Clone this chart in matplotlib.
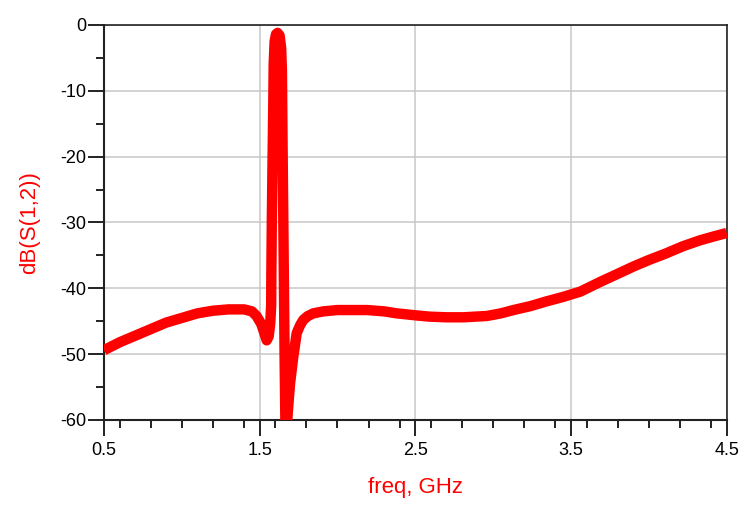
import matplotlib
matplotlib.use("Agg")
import matplotlib.pyplot as plt
from matplotlib.ticker import MultipleLocator

# values
freq = [0.5, 0.6, 0.7, 0.8, 0.9, 1.0, 1.1, 1.2, 1.3, 1.4, 1.45, 1.48, 1.51, 1.53, 1.545,
        1.558, 1.568, 1.574, 1.575, 1.578, 1.582, 1.587, 1.59, 1.596, 1.605, 1.615,
        1.628, 1.638, 1.643, 1.647, 1.652, 1.656, 1.66, 1.665, 1.67, 1.68, 1.695,
        1.716, 1.738, 1.76, 1.78, 1.81, 1.845, 1.91, 2.0, 2.06, 2.19, 2.3, 2.38, 2.5,
        2.59, 2.7, 2.81, 2.96, 3.05, 3.13, 3.24, 3.34, 3.45, 3.56, 3.69, 3.8, 3.9,
        4.0, 4.11, 4.22, 4.33, 4.42, 4.5]
s12_db = [-49.4, -48.2, -47.2, -46.2, -45.2, -44.5, -43.8, -43.4, -43.2, -43.2, -43.5, -44.2, -45.4, -46.8, -47.9,
          -47.3, -45.3, -42.5, -38.0, -30.0, -22.0, -13.0, -6.0, -2.5, -1.4, -1.2,
          -1.6, -3.5, -7.0, -18.0, -30.0, -40.0, -50.0, -60.0, -64.0, -59.0, -54.5,
          -50.4, -46.8, -45.6, -44.8, -44.2, -43.8, -43.5, -43.3, -43.3, -43.3, -43.5, -43.8, -44.1,
          -44.3, -44.4, -44.4, -44.2, -43.8, -43.3, -42.7, -42.0, -41.3, -40.5, -39.0, -37.8, -36.7,
          -35.7, -34.7, -33.6, -32.7, -32.1, -31.6]

x_ticks = [0.5, 1.5, 2.5, 3.5, 4.5]
y_ticks = [0, -10, -20, -30, -40, -50, -60]

plt.rcParams['font.family'] = ['Liberation Sans', 'DejaVu Sans']

fig = plt.figure(figsize=(7.52, 5.11), dpi=100)
ax = fig.add_axes([0.1383, 0.1781, 0.9663 - 0.1383, 0.9511 - 0.1781])

ax.plot(freq, s12_db, color='#ff0000', lw=7.5, solid_joinstyle='round',
        solid_capstyle='butt', zorder=3)

ax.set_xlim(0.5, 4.5)
ax.set_ylim(-60, 0)
ax.set_xticks(x_ticks)
ax.set_xticklabels([str(v) for v in x_ticks])
ax.set_yticks(y_ticks)
ax.set_yticklabels([str(v) for v in y_ticks])
ax.xaxis.set_minor_locator(MultipleLocator(0.2))
ax.yaxis.set_minor_locator(MultipleLocator(5))

ax.grid(True, which='major', color='#c8c8c8', lw=1.1, zorder=0)
ax.tick_params(which='major', length=11.5, width=1.4, color='#222222',
               labelsize=13, pad=1)
ax.tick_params(axis='x', which='major', pad=4)
ax.tick_params(which='minor', length=5.5, width=1.4, color='#222222')
for side in ['left', 'bottom', 'top', 'right']:
    ax.spines[side].set_color('#222222')
ax.spines['left'].set_linewidth(1.5)
ax.spines['bottom'].set_linewidth(1.5)
ax.spines['top'].set_linewidth(1.2)
ax.spines['right'].set_linewidth(1.2)

ax.set_xlabel('freq, GHz', color='#ff0000', fontsize=16, labelpad=13)
ax.set_ylabel('dB(S(1,2))', color='#ff0000', fontsize=16, labelpad=15)

fig.savefig('out.png', dpi=100)
